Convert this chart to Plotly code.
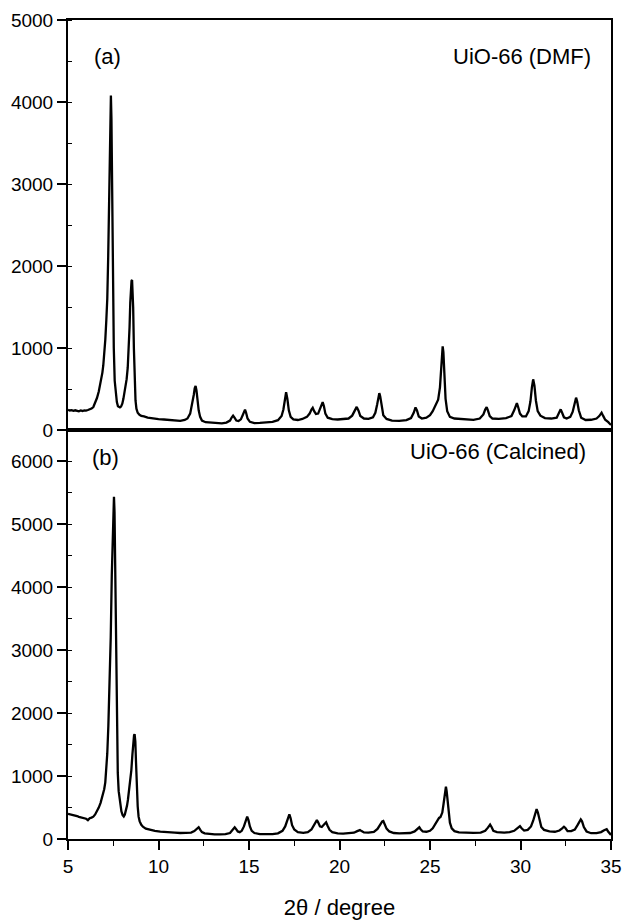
import plotly.graph_objects as go

# ---------------- data (2theta, intensity) ----------------
# (a) UiO-66 (DMF)
dmf_scan = [
    (5.0, 245), (5.1, 238), (5.2, 242), (5.3, 233), (5.4, 240), (5.5, 236), (5.6, 228), (5.7, 238),
    (5.8, 232), (5.9, 240), (6.0, 236), (6.1, 244), (6.2, 250), (6.3, 262), (6.4, 280), (6.5, 330),
    (6.6, 390), (6.7, 470), (6.8, 570), (6.9, 700), (6.95, 790), (7.0, 900), (7.06, 1100), (7.12, 1350),
    (7.17, 1600), (7.22, 2100), (7.27, 2800), (7.31, 3500), (7.34, 3950), (7.37, 4080), (7.40, 3800),
    (7.43, 3100), (7.46, 2300), (7.49, 1600), (7.53, 1000), (7.58, 600), (7.64, 420), (7.7, 340),
    (7.76, 290), (7.82, 278), (7.87, 275), (7.93, 285), (8.0, 320), (8.06, 380), (8.12, 450),
    (8.18, 520), (8.24, 620), (8.3, 760), (8.35, 960), (8.4, 1250), (8.44, 1550), (8.48, 1750),
    (8.51, 1820), (8.54, 1830), (8.57, 1720), (8.6, 1500), (8.64, 1000), (8.68, 600), (8.73, 360),
    (8.78, 260), (8.85, 210), (8.95, 185), (9.05, 172), (9.2, 165), (9.4, 150), (9.6, 146), (9.8, 138),
    (10.0, 132), (10.3, 128), (10.6, 124), (10.9, 118), (11.2, 112), (11.45, 122), (11.6, 140),
    (11.75, 200), (11.85, 300), (11.95, 430), (12.0, 510), (12.05, 537), (12.1, 480), (12.15, 370),
    (12.22, 240), (12.3, 160), (12.4, 115), (12.6, 95), (12.9, 88), (13.2, 84), (13.5, 82), (13.75, 90),
    (13.95, 115), (14.05, 155), (14.12, 175), (14.2, 150), (14.3, 115), (14.42, 110), (14.55, 130),
    (14.65, 180), (14.72, 230), (14.78, 248), (14.84, 210), (14.92, 140), (15.05, 100), (15.3, 84),
    (15.6, 86), (16.0, 92), (16.3, 100), (16.6, 120), (16.8, 170), (16.9, 250), (16.98, 380),
    (17.05, 460), (17.12, 380), (17.2, 240), (17.3, 160), (17.45, 130), (17.7, 122), (17.95, 135),
    (18.2, 160), (18.35, 200), (18.45, 250), (18.52, 270), (18.6, 230), (18.7, 195), (18.82, 200),
    (18.92, 250), (19.0, 310), (19.07, 340), (19.14, 290), (19.22, 200), (19.35, 150), (19.6, 132),
    (19.9, 128), (20.2, 130), (20.5, 140), (20.7, 175), (20.85, 240), (20.95, 282), (21.05, 235),
    (21.15, 170), (21.35, 140), (21.6, 135), (21.85, 155), (21.98, 210), (22.08, 310), (22.15, 400),
    (22.2, 450), (22.25, 410), (22.32, 290), (22.42, 180), (22.6, 135), (22.9, 115), (23.3, 112),
    (23.7, 120), (23.95, 145), (24.1, 210), (24.2, 275), (24.28, 240), (24.38, 165), (24.55, 140),
    (24.8, 150), (25.0, 180), (25.15, 230), (25.3, 300), (25.37, 345), (25.45, 370), (25.55, 520),
    (25.62, 800), (25.67, 980), (25.7, 1020), (25.74, 950), (25.8, 650), (25.86, 380), (25.95, 230),
    (26.1, 160), (26.35, 140), (26.7, 135), (27.0, 130), (27.4, 124), (27.75, 140), (27.95, 190),
    (28.05, 250), (28.13, 278), (28.2, 240), (28.3, 170), (28.45, 140), (28.8, 135), (29.2, 145),
    (29.5, 170), (29.65, 240), (29.73, 300), (29.8, 328), (29.87, 280), (29.97, 200), (30.1, 165),
    (30.3, 165), (30.45, 230), (30.55, 350), (30.63, 520), (30.7, 618), (30.77, 540), (30.85, 360),
    (30.95, 230), (31.1, 175), (31.35, 145), (31.7, 140), (32.0, 150), (32.1, 190), (32.17, 235),
    (32.22, 252), (32.3, 210), (32.4, 155), (32.55, 140), (32.75, 160), (32.88, 220), (32.98, 330),
    (33.07, 394), (33.13, 350), (33.22, 240), (33.35, 150), (33.6, 122), (33.9, 125), (34.2, 140),
    (34.35, 170), (34.44, 205), (34.48, 211), (34.56, 175), (34.68, 125), (34.85, 95), (35.0, 60),
]

# (b) UiO-66 (Calcined)
calcined_scan = [
    (5.0, 400), (5.1, 395), (5.2, 385), (5.3, 382), (5.4, 372), (5.5, 365), (5.6, 352), (5.7, 345),
    (5.8, 335), (5.9, 328), (6.0, 322), (6.1, 300), (6.2, 330), (6.3, 340), (6.4, 355), (6.5, 390),
    (6.6, 435), (6.7, 500), (6.8, 575), (6.9, 680), (7.0, 790), (7.06, 900), (7.12, 1100), (7.17, 1360),
    (7.23, 1800), (7.3, 2400), (7.36, 3200), (7.42, 4200), (7.48, 5000), (7.52, 5350), (7.54, 5440),
    (7.57, 5200), (7.6, 4400), (7.63, 3300), (7.66, 2400), (7.7, 1600), (7.75, 1050), (7.8, 760),
    (7.87, 560), (7.95, 440), (8.02, 380), (8.08, 358), (8.14, 390), (8.2, 450), (8.26, 530),
    (8.31, 620), (8.37, 760), (8.43, 920), (8.5, 1095), (8.56, 1350), (8.61, 1580), (8.65, 1650),
    (8.68, 1665), (8.72, 1550), (8.76, 1200), (8.8, 850), (8.85, 520), (8.9, 355), (8.96, 280),
    (9.05, 225), (9.14, 195), (9.3, 165), (9.5, 150), (9.8, 130), (10.1, 118), (10.5, 105), (10.9, 100),
    (11.2, 95), (11.5, 96), (11.8, 102), (11.98, 125), (12.1, 160), (12.17, 180), (12.22, 188),
    (12.3, 150), (12.4, 110), (12.55, 90), (12.8, 80), (13.1, 74), (13.4, 72), (13.7, 76), (13.95, 95),
    (14.08, 135), (14.16, 170), (14.21, 185), (14.28, 160), (14.38, 120), (14.49, 108), (14.6, 130),
    (14.72, 200), (14.82, 290), (14.9, 355), (14.97, 300), (15.05, 200), (15.15, 130), (15.3, 95),
    (15.6, 76), (16.0, 72), (16.3, 76), (16.6, 90), (16.85, 130), (17.0, 200), (17.1, 300),
    (17.18, 370), (17.23, 390), (17.3, 330), (17.38, 220), (17.5, 150), (17.7, 110), (18.0, 98),
    (18.25, 110), (18.45, 150), (18.58, 220), (18.68, 280), (18.75, 300), (18.82, 265), (18.92, 200),
    (19.02, 190), (19.12, 225), (19.2, 258), (19.26, 265), (19.34, 210), (19.45, 145), (19.6, 110),
    (19.9, 90), (20.2, 86), (20.5, 88), (20.8, 100), (20.98, 125), (21.08, 138), (21.13, 142),
    (21.22, 125), (21.35, 105), (21.6, 100), (21.9, 112), (22.1, 160), (22.25, 230), (22.36, 280),
    (22.42, 286), (22.5, 240), (22.6, 165), (22.75, 120), (23.0, 95), (23.3, 88), (23.6, 86),
    (23.9, 95), (24.15, 120), (24.28, 160), (24.36, 182), (24.41, 186), (24.48, 155), (24.6, 120),
    (24.8, 115), (25.0, 130), (25.15, 170), (25.28, 230), (25.4, 300), (25.5, 335), (25.58, 350),
    (25.68, 420), (25.75, 560), (25.81, 740), (25.86, 825), (25.88, 830), (25.92, 760), (25.97, 580),
    (26.03, 380), (26.1, 260), (26.2, 170), (26.35, 125), (26.6, 105), (27.0, 100), (27.4, 96),
    (27.8, 102), (28.05, 130), (28.2, 180), (28.27, 215), (28.32, 230), (28.4, 190), (28.5, 130),
    (28.7, 110), (29.1, 100), (29.4, 108), (29.65, 130), (29.8, 165), (29.9, 195), (29.97, 205),
    (30.06, 170), (30.2, 135), (30.4, 145), (30.58, 200), (30.7, 290), (30.8, 400), (30.89, 475),
    (30.96, 420), (31.05, 290), (31.15, 190), (31.3, 145), (31.6, 120), (31.9, 115), (32.15, 135),
    (32.3, 170), (32.4, 195), (32.48, 175), (32.6, 125), (32.8, 125), (33.0, 150), (33.15, 220),
    (33.25, 285), (33.33, 310), (33.4, 280), (33.5, 190), (33.65, 120), (33.9, 92), (34.2, 92),
    (34.45, 110), (34.62, 140), (34.7, 155), (34.76, 156), (34.84, 120), (34.93, 90), (35.0, 65),
]

x_ticks = [5, 10, 15, 20, 25, 30, 35]
y_ticks_a = [0, 1000, 2000, 3000, 4000, 5000]
y_ticks_b = [0, 1000, 2000, 3000, 4000, 5000, 6000]
panel_labels = ["(a)", "(b)"]
sample_names = ["UiO-66 (DMF)", "UiO-66 (Calcined)"]
x_title = "2θ / degree"

FONT = "Liberation Sans, Arial, sans-serif"
BLACK = "#000000"

fig = go.Figure()
fig.add_trace(go.Scatter(x=[p[0] for p in dmf_scan], y=[p[1] for p in dmf_scan], mode="lines",
                         xaxis="x2", yaxis="y", line=dict(color=BLACK, width=2.3), showlegend=False))
fig.add_trace(go.Scatter(x=[p[0] for p in calcined_scan], y=[p[1] for p in calcined_scan], mode="lines",
                         xaxis="x", yaxis="y2", line=dict(color=BLACK, width=2.3), showlegend=False))

split = 409 / 819
common_line = dict(showline=True, linecolor=BLACK, linewidth=2, mirror=True, showgrid=False,
                   zeroline=False, tickcolor=BLACK, tickwidth=1.5, automargin=False)
tickfont = dict(family=FONT, size=19, color=BLACK)
overlay_common = dict(ticks="inside", ticklen=4, tickcolor=BLACK, tickwidth=1, showticklabels=False,
                      showgrid=False, zeroline=False, showline=False, automargin=False)

fig.update_layout(
    width=623, height=920,
    margin=dict(l=68, r=12, t=20, b=81),
    paper_bgcolor="white", plot_bgcolor="white",
    font=dict(family=FONT, color=BLACK),
    # bottom panel x axis
    xaxis=dict(domain=[0, 1], anchor="y2", range=[5, 35], tickvals=x_ticks, ticks="outside",
               ticklen=9, tickfont=tickfont,
               minor=dict(dtick=2.5, ticks="outside", ticklen=5, tickcolor=BLACK, tickwidth=1.2),
               title=dict(text=x_title, font=dict(family=FONT, size=22, color=BLACK), standoff=24),
               **common_line),
    # top panel x axis
    xaxis2=dict(domain=[0, 1], anchor="y", range=[5, 35], showticklabels=False, ticks="",
                **common_line),
    # top panel ticks on the upper edge
    xaxis3=dict(overlaying="x2", anchor="y", side="top", range=[5, 35], dtick=2.5, **overlay_common),
    yaxis=dict(domain=[split, 1], anchor="x2", range=[0, 5000], tickvals=y_ticks_a, ticks="outside",
               ticklen=9, tickfont=tickfont,
               minor=dict(dtick=500, ticks="inside", ticklen=4, tickcolor=BLACK, tickwidth=1),
               **common_line),
    yaxis2=dict(domain=[0, split], anchor="x", range=[0, 6500], tickvals=y_ticks_b,
                ticks="outside", ticklen=9, tickfont=tickfont,
                minor=dict(dtick=500, ticks="inside", ticklen=4, tickcolor=BLACK, tickwidth=1),
                **common_line),
    yaxis3=dict(overlaying="y", anchor="x2", side="right", range=[0, 5000], dtick=500, **overlay_common),
    yaxis4=dict(overlaying="y2", anchor="x", side="right", range=[0, 6500], dtick=500, **overlay_common),
)

ann_font = dict(family=FONT, size=22, color=BLACK)
fig.add_annotation(text=panel_labels[0], xref="paper", yref="paper", x=(92 - 68) / 543, y=(839 - 57) / 819,
                   xanchor="left", yanchor="middle", showarrow=False, font=ann_font)
fig.add_annotation(text=sample_names[0], xref="paper", yref="paper", x=(593 - 68) / 543, y=(839 - 57) / 819,
                   xanchor="right", yanchor="middle", showarrow=False, font=ann_font)
fig.add_annotation(text=panel_labels[1], xref="paper", yref="paper", x=(90 - 68) / 543, y=(839 - 457) / 819,
                   xanchor="left", yanchor="middle", showarrow=False, font=ann_font)
fig.add_annotation(text=sample_names[1], xref="paper", yref="paper", x=(588 - 68) / 543, y=(839 - 451) / 819,
                   xanchor="right", yanchor="middle", showarrow=False, font=ann_font)

fig.write_html("out.html")
